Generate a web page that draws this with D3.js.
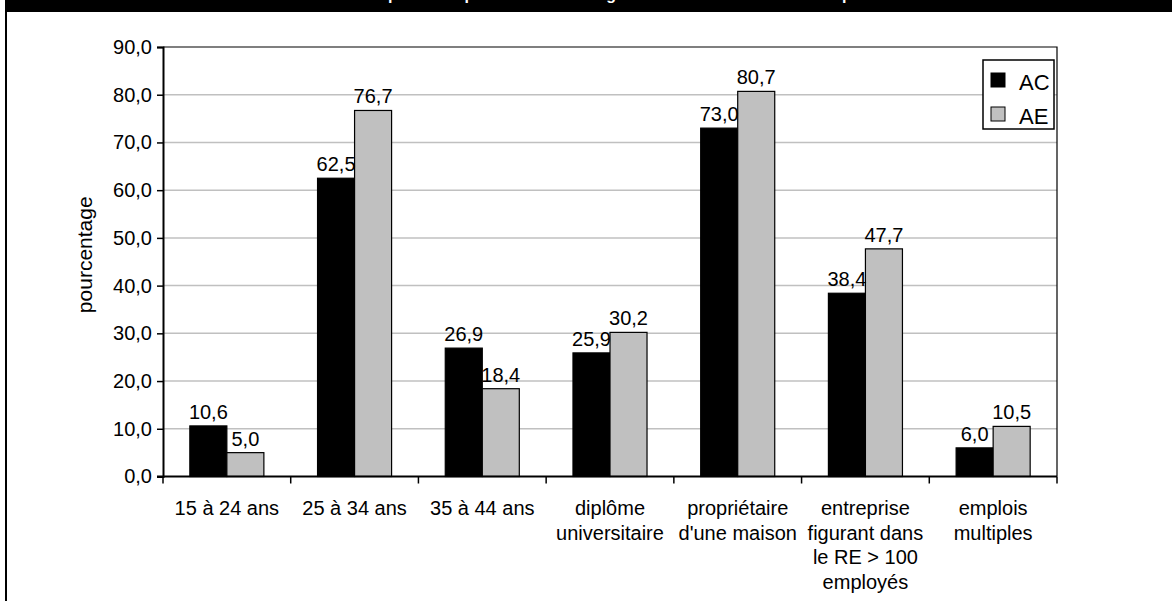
<!DOCTYPE html>
<html>
<head>
<meta charset="utf-8">
<script src="https://cdn.jsdelivr.net/npm/d3@7"></script>
<style>
  html, body { margin: 0; padding: 0; background: #fff; }
  svg { display: block; font-family: "Liberation Sans", Arial, sans-serif; }
</style>
</head>
<body>
<svg id="chart" width="1172" height="601"></svg>
<script>
// Chart data
const categories = [
  "15 à 24 ans",
  "25 à 34 ans",
  "35 à 44 ans",
  "diplôme\nuniversitaire",
  "propriétaire\nd'une maison",
  "entreprise\nfigurant dans\nle RE > 100\nemployés",
  "emplois\nmultiples"
];
const seriesNames = ["AC", "AE"];
const valuesAC = [10.6, 62.5, 26.9, 25.9, 73.0, 38.4, 6.0];
const valuesAE = [5.0, 76.7, 18.4, 30.2, 80.7, 47.7, 10.5];
const yTicks = [0, 10, 20, 30, 40, 50, 60, 70, 80, 90];
const titleText = "Le profil des prestataires sur l'âge et selon divers autres traits personnels";
const yTitle = "pourcentage";

const seriesColors = { AC: "#000000", AE: "#c0c0c0" };

const frLocale = d3.formatLocale({ decimal: ",", thousands: " ", grouping: [3], currency: ["", " $"] });
const fmt = frLocale.format(".1f");

const svg = d3.select("#chart");
const W = 1172, H = 601;
const plot = { left: 163, right: 1057, top: 47, bottom: 476.5 };

// Outer frame: black banner at top and a border on the left
svg.append("rect").attr("x", 5).attr("y", 0).attr("width", W - 5).attr("height", 12).attr("fill", "#000");
svg.append("rect").attr("x", 5).attr("y", 0).attr("width", 2).attr("height", H).attr("fill", "#000");

// Title (sits at the top of the banner, mostly above the page edge)
svg.append("text")
  .attr("x", 365).attr("y", -0.5)
  .attr("fill", "#fff")
  .attr("font-weight", "bold")
  .attr("font-size", 16)
  .text(titleText);

const x = d3.scaleBand().domain(categories).range([plot.left, plot.right]).padding(0);
const xSub = d3.scaleBand().domain(seriesNames).range([0, x.bandwidth()]).paddingInner(0).paddingOuter(0.725);
const y = d3.scaleLinear().domain([0, 90]).range([plot.bottom, plot.top]);

// Gridlines
svg.append("g")
  .selectAll("line")
  .data(yTicks.filter(d => d > 0 && d < 90))
  .join("line")
  .attr("x1", plot.left).attr("x2", plot.right)
  .attr("y1", d => y(d)).attr("y2", d => y(d))
  .attr("stroke", "#c0c0c0").attr("stroke-width", 1.5);

// Plot area border (top and right)
svg.append("path")
  .attr("d", `M${plot.left},${y(90)}H${plot.right}V${plot.bottom}`)
  .attr("fill", "none").attr("stroke", "#000").attr("stroke-width", 1.2);

// Bars
const rows = categories.map((c, i) => ({ cat: c, AC: valuesAC[i], AE: valuesAE[i] }));
const groups = svg.append("g").selectAll("g")
  .data(rows).join("g")
  .attr("transform", d => `translate(${x(d.cat)},0)`);

groups.selectAll("rect")
  .data(d => seriesNames.map(k => ({ key: k, value: d[k] })))
  .join("rect")
  .attr("x", d => xSub(d.key))
  .attr("y", d => y(d.value))
  .attr("width", xSub.bandwidth())
  .attr("height", d => y(0) - y(d.value))
  .attr("fill", d => seriesColors[d.key])
  .attr("stroke", "#000").attr("stroke-width", 1.2);

groups.selectAll("text.val")
  .data(d => seriesNames.map(k => ({ key: k, value: d[k] })))
  .join("text")
  .attr("class", "val")
  .attr("x", d => xSub(d.key) + xSub.bandwidth() / 2)
  .attr("y", d => y(d.value) - 7)
  .attr("text-anchor", "middle")
  .attr("font-size", 20)
  .attr("fill", "#000")
  .text(d => fmt(d.value));

// Y axis
const yAxis = d3.axisLeft(y).tickValues(yTicks).tickFormat(fmt).tickSize(6).tickPadding(5);
const gy = svg.append("g").attr("transform", `translate(${plot.left},0)`).call(yAxis);
gy.select(".domain").attr("stroke", "#000").attr("stroke-width", 2);
gy.selectAll(".tick line").attr("stroke", "#000").attr("stroke-width", 1.5);
gy.selectAll(".tick text").attr("font-size", 20).attr("fill", "#000")
  .attr("font-family", "Liberation Sans, Arial, sans-serif");

// X axis: ticks at category boundaries
const boundaries = categories.map(c => x(c)).concat([plot.right]);
const gx = svg.append("g");
gx.append("line")
  .attr("x1", plot.left - 6).attr("x2", plot.right)
  .attr("y1", plot.bottom).attr("y2", plot.bottom)
  .attr("stroke", "#000").attr("stroke-width", 2);
gx.selectAll("line.tk")
  .data(boundaries).join("line")
  .attr("class", "tk")
  .attr("x1", d => d).attr("x2", d => d)
  .attr("y1", plot.bottom).attr("y2", plot.bottom + 7)
  .attr("stroke", "#000").attr("stroke-width", 1.5);

// Category labels (multi-line)
const catLabels = gx.selectAll("text.cat")
  .data(categories).join("text")
  .attr("class", "cat")
  .attr("text-anchor", "middle")
  .attr("font-size", 20)
  .attr("fill", "#000");
catLabels.each(function(c) {
  const t = d3.select(this);
  c.split("\n").forEach((line, i) => {
    t.append("tspan")
      .attr("x", x(c) + x.bandwidth() / 2)
      .attr("y", 515 + i * 24.5)
      .text(line);
  });
});

// Y axis title
svg.append("text")
  .attr("transform", `translate(92,${(plot.top + plot.bottom) / 2 - 7}) rotate(-90)`)
  .attr("text-anchor", "middle")
  .attr("font-size", 21)
  .attr("fill", "#000")
  .text(yTitle);

// Legend
const legend = svg.append("g").attr("transform", "translate(983,60)");
legend.append("rect")
  .attr("width", 71).attr("height", 69)
  .attr("fill", "#fff").attr("stroke", "#000").attr("stroke-width", 1.5);
seriesNames.forEach((k, i) => {
  legend.append("rect")
    .attr("x", 8).attr("y", 13 + i * 34)
    .attr("width", 14).attr("height", 14)
    .attr("fill", seriesColors[k]).attr("stroke", "#000").attr("stroke-width", 1);
  legend.append("text")
    .attr("x", 36).attr("y", 30 + i * 33.5)
    .attr("font-size", 22)
    .attr("fill", "#000")
    .text(k);
});
</script>
</body>
</html>
